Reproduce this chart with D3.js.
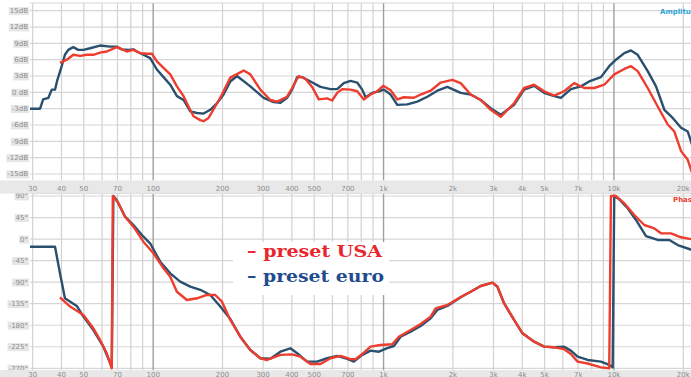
<!DOCTYPE html>
<html>
<head>
<meta charset="utf-8">
<script src="https://cdn.jsdelivr.net/npm/d3@7/dist/d3.min.js"></script>
<style>
body { margin: 0; background: #fff; }
svg { display: block; font-family: "DejaVu Sans", sans-serif; }
.tick-label { font-size: 7px; fill: #8c8c8c; }
</style>
</head>
<body>
<div id="chart"></div>
<script>
// frequency grid + labels
var gridFreqs = [30, 40, 50, 60, 70, 80, 90, 100, 200, 300, 400, 500, 600, 700, 800, 900,
    1000, 2000, 3000, 4000, 5000, 6000, 7000, 8000, 9000, 10000, 20000];
var majorFreqs = [100, 1000, 10000];
var freqLabels = [30, 40, 50, 70, 100, 200, 300, 400, 500, 700, 1000, 2000, 3000, 4000, 5000, 7000, 10000, 20000];
var freqLabelText = ["30", "40", "50", "70", "100", "200", "300", "400", "500", "700",
    "1k", "2k", "3k", "4k", "5k", "7k", "10k", "20k"];

var ampTicks = [15, 12, 9, 6, 3, 0, -3, -6, -9, -12, -15];
var ampTickText = ["15dB", "12dB", "9dB", "6dB", "3dB", "0 dB", "-3dB", "-6dB", "-9dB", "-12dB", "-15dB"];
var phaseTicks = [90, 45, 0, -45, -90, -135, -180, -225, -270];
var phaseTickText = ["90°", "45°", "0°", "-45°", "-90°", "-135°", "-180°", "-225°", "-270°"];

// amplitude, dB  [Hz, dB]
var ampEuro = [[29.2,-3.0],[32.3,-3.0],[33.3,-1.3],[35.1,-1.0],[36.3,0.5],[37.5,0.5],[38.4,2.3],[39.7,4.2],
    [41.4,6.9],[42.8,7.8],[45.0,8.3],[47.3,7.8],[49.8,7.8],[53.2,8.1],[58.8,8.6],[65.0,8.4],[69.5,8.4],
    [73.1,7.9],[78.1,7.8],[82.1,7.9],[84.9,7.5],[90.7,6.9],[97.0,6.3],[103.8,4.2],[110.9,2.8],[118.6,1.4],
    [126.8,-0.7],[135.5,-1.4],[144.9,-3.5],[154.9,-3.8],[165.5,-3.9],[177,-3.2],[189.2,-2.0],[202.1,-0.4],
    [216.2,2.0],[231.2,3.0],[264.1,1.1],[301.7,-1.0],[333.4,-1.8],[356.6,-1.9],[381.4,-1.0],[401,0.5],
    [421.5,2.8],[443.1,2.8],[481.5,2.0],[532.3,1.0],[588.4,0.6],[629,0.6],[672,1.7],[718.8,2.1],[768.5,1.8],
    [808,0.5],[835,-0.9],[892.8,-0.1],[954,0.2],[1003,0.5],[1073,-0.4],[1147,-2.3],[1268,-2.2],[1401,-1.7],
    [1549,-0.8],[1712,0.3],[1892,1.0],[2162,-0.1],[2389,-0.4],[2641,-1.4],[2918,-2.9],[3226,-4.1],
    [3686,-2.3],[4074,0.5],[4503,1.2],[4977,-0.1],[5413,-0.6],[5884,-1.0],[6502,0.6],[7188,1.1],[7810,2.0],
    [8780,2.8],[9540,4.8],[10202,6.0],[11090,7.2],[11858,7.7],[12677,6.9],[14012,3.9],[15226,1.1],
    [16547,-3.2],[17989,-4.7],[19558,-6.5],[20911,-7.2],[21837,-9.6]];

var ampUsa = [[39.4,5.4],[42.2,6.0],[45.0,6.9],[48.2,6.7],[51.5,6.9],[55.0,6.9],[58.8,7.3],[62.9,7.5],
    [69.5,8.3],[74.3,7.8],[76.8,7.5],[82.1,7.8],[87.8,7.2],[93.9,7.1],[98.7,7.1],[103.8,5.7],[110.9,4.5],
    [118.6,3.3],[126.8,1.1],[135.5,-0.7],[142.4,-2.6],[149.7,-4.4],[160.1,-5.1],[165.5,-5.3],[174,-4.7],
    [186,-2.6],[198.9,-0.4],[216.2,2.7],[247,4.0],[264.1,3.3],[291.8,0.5],[322.6,-1.4],[345,-1.7],
    [381.4,-0.8],[401,0.8],[428.4,3.0],[458,2.5],[489.7,1.0],[523.3,-1.3],[568.9,-1.1],[598.4,-1.5],
    [629,-0.1],[661.4,0.6],[718.8,0.5],[768.5,0.2],[821,-1.3],[878,-0.4],[939,0.2],[997,1.2],[1073,0.4],
    [1147,-1.3],[1225,-0.9],[1355,-1.0],[1449,-0.4],[1601,0.3],[1770,1.8],[1989,2.3],[2162,1.7],
    [2389,-0.4],[2641,-1.4],[2918,-3.2],[3226,-4.5],[3686,-2.0],[4074,0.8],[4503,1.4],[4977,0.2],
    [5502,-0.6],[6080,0.2],[6720,1.7],[7430,0.8],[8210,0.8],[9074,1.4],[10030,3.3],[11090,4.3],
    [11858,4.8],[12677,3.9],[14012,0.8],[15485,-2.6],[17117,-5.9],[18293,-7.2],[19558,-10.8],
    [20911,-12.4],[21837,-14.8]];

// phase, degrees  [Hz, deg]
var phaseEuro = [[29.2,-16],[37.5,-16],[39.4,-71.5],[41.4,-123.7],[46.6,-139.8],[49.8,-162],[55.0,-190],
    [60.8,-224.8],[66.1,-266.6],[67.2,90],[69.5,81.6],[75.5,46.8],[82.1,29.4],[90.7,5],[97.0,-8.8],
    [107.3,-47.2],[118.6,-71.5],[131,-89],[144.9,-99.5],[160.1,-106],[177,-116.8],[195.6,-141],
    [216.2,-167],[238.9,-204],[264.1,-231.7],[291.8,-249],[322.6,-250],[356.6,-235.3],[394.1,-228.2],
    [421.5,-238.6],[465.8,-256],[514.9,-256],[568.9,-249],[629,-244.2],[683.7,-249],[743,-256],
    [808,-242],[878,-233],[954,-235.3],[1037.6,-228],[1109,-223.4],[1186,-204],[1310.5,-193.5],
    [1449,-181.6],[1601,-165.5],[1712,-148],[1892,-139.8],[2162,-121.7],[2389,-110],[2641,-98],
    [2969,-91],[3121,-99.5],[3334,-134],[3686,-169],[4009,-196.8],[4503,-214.4],[4977,-224.8],
    [5502,-226],[6080,-224.8],[6502,-233],[6954,-245.7],[7685,-252.6],[8780,-256],[9540,-263],
    [9871,-268],[10030,90],[10545,83],[11470,64.3],[12464,39.9],[13777,6.4],[15485,-1.9],
    [17397,-1.9],[18922,-12.4],[21837,-22.8]];

var phaseUsa = [[39.4,-121.7],[43.6,-141],[49.8,-158.6],[55.0,-186.4],[58.8,-210.8],[62.9,-238.6],
    [66.1,-270],[66.8,90],[70.7,74.7],[75.5,46.8],[82.1,25.9],[90.7,-5.5],[100.3,-29.8],[110.9,-61],
    [118.6,-78.5],[126.8,-110],[140.1,-127.3],[154.9,-123.7],[171.2,-116.8],[186,-116.8],[198.9,-130.8],
    [216.2,-169],[238.9,-204],[264.1,-232],[291.8,-249],[312.1,-252.6],[356.6,-242],[401,-241],
    [435.7,-245.7],[481.5,-261],[532.3,-261],[588.4,-249],[650.2,-244],[718.8,-251],[755.5,-251],
    [821,-237.3],[878,-224.8],[970.4,-221.3],[1091,-219.6],[1165,-204],[1310.5,-190],[1449,-177.4],
    [1601,-162],[1683,-144.6],[1892,-137.7],[2162,-121],[2389,-110],[2641,-98],[2969,-91],[3121,-99.5],
    [3334,-134],[3686,-169],[4009,-196.8],[4503,-214.4],[4977,-224.8],[5502,-226],[6080,-230],
    [6502,-240],[6954,-256],[7685,-260],[8780,-268],[9540,-270],[9704,90],[10202,90],[11090,74.7],
    [12253,50.3],[13546,29.4],[14966,22.4],[16008,12],[17697,12],[19558,3.7],[21837,-0.5]];

var legendNames = ["– preset USA", "– preset euro"];

var colorUsa = "#ee3d2e";
var colorEuro = "#29506f";

var W = 691, H = 377;

var svg = d3.select("#chart").append("svg")
    .attr("width", W)
    .attr("height", H);

svg.append("rect").attr("width", W).attr("height", H).attr("fill", "#fff");

// shared log frequency axis
var x = d3.scaleLog().domain([30, 20000]).range([32.7, 683.3]);

/*
 * FreqPanel - one graph (amplitude or phase) on the shared frequency axis
 */
FreqPanel = function(_svg, _opts, _series) {
    this.svg = _svg;
    this.opts = _opts;
    this.series = _series;
    this.initVis();
};

FreqPanel.prototype.initVis = function() {
    var vis = this;
    var o = vis.opts;

    vis.y = d3.scaleLinear().domain(o.domain).range(o.range);

    vis.g = vis.svg.append("g").attr("class", o.name);

    vis.g.append("defs").append("clipPath")
        .attr("id", "clip-" + o.name)
        .append("rect")
        .attr("x", 30).attr("y", o.top)
        .attr("width", W - 30).attr("height", o.bottom - o.top);

    // horizontal grid
    vis.g.selectAll(".hgrid")
        .data(o.ticks)
        .enter().append("line")
        .attr("class", "hgrid")
        .attr("x1", 30).attr("x2", W)
        .attr("y1", function(d) { return vis.y(d); })
        .attr("y2", function(d) { return vis.y(d); })
        .attr("stroke", "#d6d6d6")
        .attr("stroke-width", 1.2);

    // vertical grid
    vis.g.selectAll(".vgrid")
        .data(gridFreqs)
        .enter().append("line")
        .attr("class", "vgrid")
        .attr("x1", function(d) { return x(d); })
        .attr("x2", function(d) { return x(d); })
        .attr("y1", o.top).attr("y2", o.bottom)
        .attr("stroke", function(d) { return majorFreqs.indexOf(d) >= 0 ? "#a0a0a0" : "#d2d2d2"; })
        .attr("stroke-width", function(d) { return majorFreqs.indexOf(d) >= 0 ? 1.4 : 1.2; });

    vis.g.append("line")
        .attr("x1", 30).attr("x2", W)
        .attr("y1", o.top).attr("y2", o.top)
        .attr("stroke", "#d6d6d6");

    // y labels with grey boxes
    var lab = vis.g.selectAll(".ylab")
        .data(o.ticks)
        .enter().append("g")
        .attr("class", "ylab")
        .attr("transform", function(d) { return "translate(28," + vis.y(d) + ")"; });
    lab.append("rect")
        .attr("fill", "#e6e6e6");
    lab.append("text")
        .attr("class", "tick-label")
        .attr("text-anchor", "end")
        .attr("dy", "0.35em")
        .text(function(d, i) { return o.tickText[i]; });
    lab.each(function() {
        var bb = d3.select(this).select("text").node().getBBox();
        d3.select(this).select("rect")
            .attr("x", bb.x - 1).attr("y", bb.y)
            .attr("width", bb.width + 2).attr("height", bb.height);
    });

    vis.line = d3.line()
        .x(function(d) { return x(d[0]); })
        .y(function(d) { return vis.y(d[1]); });

    vis.updateVis();
};

FreqPanel.prototype.updateVis = function() {
    var vis = this;
    vis.g.append("g")
        .attr("clip-path", "url(#clip-" + vis.opts.name + ")")
        .selectAll(".curve")
        .data(vis.series)
        .enter().append("path")
        .attr("class", "curve")
        .attr("d", function(d) { return vis.line(d.values); })
        .attr("fill", "none")
        .attr("stroke", function(d) { return d.color; })
        .attr("stroke-width", 2.4)
        .attr("stroke-linejoin", "round");

    vis.g.append("text")
        .attr("x", vis.opts.titleX)
        .attr("y", vis.opts.titleY)
        .attr("font-size", "7px")
        .attr("font-weight", "bold")
        .attr("fill", vis.opts.titleColor)
        .text(vis.opts.title);
};

var ampChart = new FreqPanel(svg, {
    name: "amp", top: 3, bottom: 180.5, domain: [-15, 15], range: [174, 10.7],
    ticks: ampTicks, tickText: ampTickText,
    title: "Amplitude", titleX: 660, titleY: 13.5, titleColor: "#2aa3d4"
}, [{values: ampEuro, color: colorEuro}, {values: ampUsa, color: colorUsa}]);

var phaseChart = new FreqPanel(svg, {
    name: "phase", top: 193.5, bottom: 370, domain: [-270, 90], range: [368.3, 196],
    ticks: phaseTicks, tickText: phaseTickText,
    title: "Phase", titleX: 673, titleY: 201.5, titleColor: "#ee3d2e"
}, [{values: phaseEuro, color: colorEuro}, {values: phaseUsa, color: colorUsa}]);

// frequency label bands
[{y0: 180.5, y1: 193.5, ty: 190.5}, {y0: 370, y1: H, ty: 376.5}].forEach(function(b) {
    svg.append("rect")
        .attr("x", 0).attr("y", b.y0)
        .attr("width", W).attr("height", b.y1 - b.y0)
        .attr("fill", "#e8e8e8");
    svg.append("g").selectAll("text")
        .data(freqLabels)
        .enter().append("text")
        .attr("class", "tick-label")
        .attr("x", function(d) { return x(d); })
        .attr("y", b.ty)
        .attr("text-anchor", "middle")
        .text(function(d, i) { return freqLabelText[i]; });
});

// legend
var legend = svg.append("g").attr("transform", "translate(247,0)");
legend.append("rect")
    .attr("x", -14).attr("y", 242)
    .attr("width", 156).attr("height", 53)
    .attr("fill", "#fff");
legend.selectAll("text")
    .data(legendNames)
    .enter().append("text")
    .attr("x", 0)
    .attr("y", function(d, i) { return 257 + i * 25; })
    .attr("font-family", "'DejaVu Serif', serif")
    .attr("font-weight", "bold")
    .attr("font-size", "17px")
    .attr("textLength", function(d, i) { return i === 0 ? 135 : 137; })
    .attr("lengthAdjust", "spacingAndGlyphs")
    .attr("fill", function(d, i) { return i === 0 ? "#e8262c" : "#1f4c8f"; })
    .text(function(d) { return d; });
</script>
</body>
</html>
